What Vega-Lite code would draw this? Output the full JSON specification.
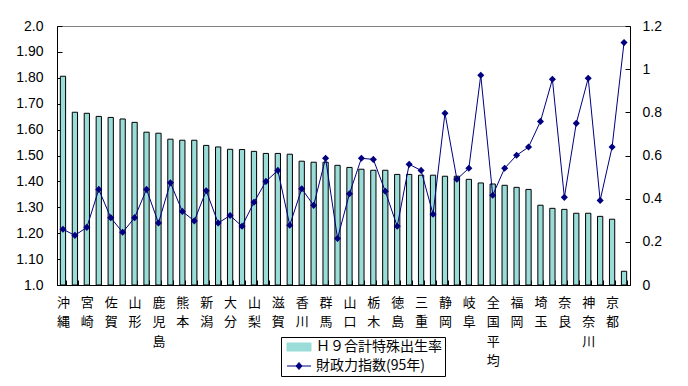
{
  "$schema": "https://vega.github.io/schema/vega-lite/v6.json",
  "width": 573,
  "height": 259,
  "autosize": {"type": "none"},
  "padding": {"left": 57, "top": 26, "right": 58, "bottom": 101},
  "background": "white",
  "config": {
    "font": "Liberation Sans, Noto Sans CJK JP, sans-serif",
    "view": {"stroke": "#808080", "strokeWidth": 1},
    "axis": {"grid": false, "title": null, "domainColor": "black", "tickColor": "black", "labelColor": "black", "labelFontSize": 14}
  },
  "data": {"values": [
    {"pref": "沖縄", "tfr": 1.806, "fiscal": 0.258},
    {"pref": "島根", "tfr": 1.667, "fiscal": 0.230},
    {"pref": "宮崎", "tfr": 1.663, "fiscal": 0.267},
    {"pref": "福島", "tfr": 1.651, "fiscal": 0.443},
    {"pref": "佐賀", "tfr": 1.647, "fiscal": 0.312},
    {"pref": "鳥取", "tfr": 1.641, "fiscal": 0.244},
    {"pref": "山形", "tfr": 1.628, "fiscal": 0.312},
    {"pref": "福井", "tfr": 1.590, "fiscal": 0.443},
    {"pref": "鹿児島", "tfr": 1.586, "fiscal": 0.287},
    {"pref": "長野", "tfr": 1.563, "fiscal": 0.474},
    {"pref": "熊本", "tfr": 1.559, "fiscal": 0.341},
    {"pref": "岩手", "tfr": 1.559, "fiscal": 0.297},
    {"pref": "新潟", "tfr": 1.539, "fiscal": 0.437},
    {"pref": "長崎", "tfr": 1.533, "fiscal": 0.287},
    {"pref": "大分", "tfr": 1.524, "fiscal": 0.322},
    {"pref": "秋田", "tfr": 1.523, "fiscal": 0.272},
    {"pref": "山梨", "tfr": 1.516, "fiscal": 0.383},
    {"pref": "富山", "tfr": 1.508, "fiscal": 0.480},
    {"pref": "滋賀", "tfr": 1.508, "fiscal": 0.531},
    {"pref": "青森", "tfr": 1.505, "fiscal": 0.277},
    {"pref": "香川", "tfr": 1.478, "fiscal": 0.446},
    {"pref": "愛媛", "tfr": 1.474, "fiscal": 0.369},
    {"pref": "群馬", "tfr": 1.474, "fiscal": 0.587},
    {"pref": "高知", "tfr": 1.462, "fiscal": 0.216},
    {"pref": "山口", "tfr": 1.454, "fiscal": 0.423},
    {"pref": "茨城", "tfr": 1.447, "fiscal": 0.587},
    {"pref": "栃木", "tfr": 1.443, "fiscal": 0.582},
    {"pref": "石川", "tfr": 1.443, "fiscal": 0.434},
    {"pref": "徳島", "tfr": 1.427, "fiscal": 0.272},
    {"pref": "広島", "tfr": 1.427, "fiscal": 0.559},
    {"pref": "三重", "tfr": 1.424, "fiscal": 0.531},
    {"pref": "和歌山", "tfr": 1.424, "fiscal": 0.328},
    {"pref": "静岡", "tfr": 1.420, "fiscal": 0.796},
    {"pref": "岡山", "tfr": 1.420, "fiscal": 0.490},
    {"pref": "岐阜", "tfr": 1.408, "fiscal": 0.541},
    {"pref": "愛知", "tfr": 1.394, "fiscal": 0.972},
    {"pref": "全国平均", "tfr": 1.390, "fiscal": 0.416},
    {"pref": "宮城", "tfr": 1.385, "fiscal": 0.541},
    {"pref": "福岡", "tfr": 1.377, "fiscal": 0.601},
    {"pref": "兵庫", "tfr": 1.369, "fiscal": 0.639},
    {"pref": "埼玉", "tfr": 1.308, "fiscal": 0.758},
    {"pref": "大阪", "tfr": 1.296, "fiscal": 0.953},
    {"pref": "奈良", "tfr": 1.292, "fiscal": 0.406},
    {"pref": "千葉", "tfr": 1.277, "fiscal": 0.749},
    {"pref": "神奈川", "tfr": 1.277, "fiscal": 0.958},
    {"pref": "北海道", "tfr": 1.265, "fiscal": 0.392},
    {"pref": "京都", "tfr": 1.254, "fiscal": 0.639},
    {"pref": "東京", "tfr": 1.053, "fiscal": 1.123}
  ]},
  "encoding": {
    "x": {
      "field": "pref", "type": "nominal", "sort": null,
      "scale": {"paddingInner": 0.56, "paddingOuter": 0.28},
      "axis": {
        "labelAngle": 0, "tickBand": "extent", "tickSize": -5, "labelPadding": 16,
        "labelOverlap": false, "labelFlush": false, "labelBaseline": "top",
        "labelFontSize": 13, "labelLineHeight": 19.5, "labelFont": "Noto Sans CJK JP",
        "labelExpr": "indexof(['沖縄','宮崎','佐賀','山形','鹿児島','熊本','新潟','大分','山梨','滋賀','香川','群馬','山口','栃木','徳島','三重','静岡','岐阜','全国平均','福岡','埼玉','奈良','神奈川','京都'], datum.value) >= 0 ? split(datum.value, '') : ''"
      }
    },
    "color": {
      "datum": "Ｈ９合計特殊出生率",
      "scale": {"domain": ["Ｈ９合計特殊出生率", "財政力指数(95年)"], "range": ["#99dcd8", "#000080"]},
      "legend": {
        "orient": "none", "legendX": 224, "legendY": 311, "title": null,
        "direction": "vertical",
        "fillColor": "white", "strokeColor": "black", "padding": 3,
        "labelFontSize": 14, "labelFont": "Noto Sans CJK JP", "labelColor": "black", "labelLimit": 300,
        "symbolSize": 100, "symbolOffset": 8, "labelOffset": 10, "rowPadding": 5,
        "encode": {
          "symbols": {"update": {
            "shape": {"signal": "datum.value == 'Ｈ９合計特殊出生率' ? 'M-2.4,-0.8H2.4V0.8H-2.4Z' : 'M-2.4,0H2.4M0,-0.7L0.6,0L0,0.7L-0.6,0Z'"},
            "fill": {"signal": "datum.value == 'Ｈ９合計特殊出生率' ? '#99dcd8' : '#000080'"},
            "stroke": {"signal": "datum.value == 'Ｈ９合計特殊出生率' ? 'black' : '#000080'"},
            "strokeWidth": {"value": 1},
            "opacity": {"value": 1},
            "size": {"value": 100}
          }}
        }
      }
    }
  },
  "layer": [
    {
      "mark": {"type": "bar", "stroke": "black", "strokeWidth": 1, "opacity": 1},
      "encoding": {
        "y": {
          "field": "tfr", "type": "quantitative",
          "scale": {"domain": [1, 2], "zero": false, "nice": false},
          "axis": {
            "orient": "left", "values": [1, 1.1, 1.2, 1.3, 1.4, 1.5, 1.6, 1.7, 1.8, 1.9, 2],
            "tickSize": -5, "labelPadding": 19,
            "labelExpr": "datum.value == 1 || datum.value == 2 ? format(datum.value, '.1f') : format(datum.value, '.2f')"
          }
        },
        "y2": {"datum": 1}
      }
    },
    {
      "mark": {"type": "line", "strokeWidth": 1, "point": {"filled": true, "shape": "diamond", "size": 50}},
      "encoding": {
        "y": {
          "field": "fiscal", "type": "quantitative",
          "scale": {"domain": [0, 1.2], "nice": false},
          "axis": {
            "orient": "right", "values": [0, 0.2, 0.4, 0.6, 0.8, 1, 1.2],
            "tickSize": -5, "labelPadding": 17,
            "labelExpr": "format(datum.value, '.1~f')"
          }
        },
        "color": {"datum": "財政力指数(95年)"}
      }
    }
  ],
  "resolve": {"scale": {"y": "independent"}}
}
